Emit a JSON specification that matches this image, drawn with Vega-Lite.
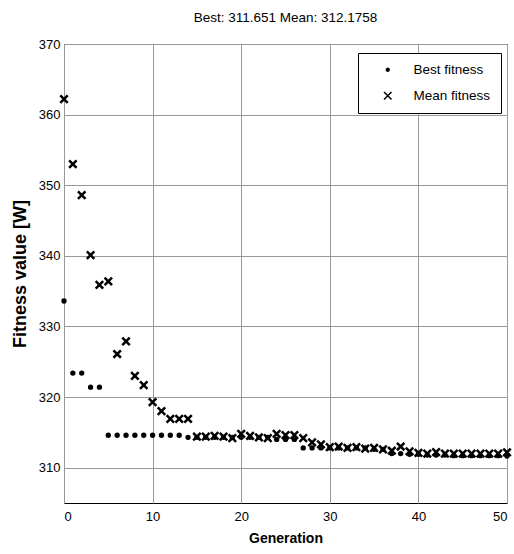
{
  "$schema": "https://vega.github.io/schema/vega-lite/v6.json",
  "width": 443,
  "height": 459,
  "autosize": {"type": "none"},
  "padding": {"left": 64, "top": 44, "right": 7, "bottom": 51},
  "background": "white",
  "title": {
    "text": "Best: 311.651 Mean: 312.1758",
    "font": "Liberation Sans",
    "fontSize": 13.5,
    "fontWeight": "normal",
    "color": "black",
    "anchor": "middle",
    "offset": 14
  },
  "config": {
    "view": {"stroke": "black", "strokeWidth": 1},
    "axis": {
      "labelFont": "Liberation Sans",
      "labelFontSize": 13,
      "labelColor": "black",
      "titleColor": "black",
      "titleFontWeight": "bold",
      "domain": false,
      "ticks": false,
      "grid": true,
      "gridColor": "#999999",
      "gridWidth": 1,
      "gridOpacity": 1
    }
  },
  "data": {
    "values": [
      {"gen": 0, "best": 333.6, "mean": 362.2},
      {"gen": 1, "best": 323.4, "mean": 353.0},
      {"gen": 2, "best": 323.4, "mean": 348.6},
      {"gen": 3, "best": 321.4, "mean": 340.1},
      {"gen": 4, "best": 321.4, "mean": 335.9},
      {"gen": 5, "best": 314.6, "mean": 336.4},
      {"gen": 6, "best": 314.6, "mean": 326.1},
      {"gen": 7, "best": 314.6, "mean": 327.9},
      {"gen": 8, "best": 314.6, "mean": 323.0},
      {"gen": 9, "best": 314.6, "mean": 321.7},
      {"gen": 10, "best": 314.6, "mean": 319.3},
      {"gen": 11, "best": 314.6, "mean": 318.0},
      {"gen": 12, "best": 314.6, "mean": 316.9},
      {"gen": 13, "best": 314.6, "mean": 316.9},
      {"gen": 14, "best": 314.3, "mean": 316.9},
      {"gen": 15, "best": 314.3, "mean": 314.4},
      {"gen": 16, "best": 314.3, "mean": 314.4},
      {"gen": 17, "best": 314.3, "mean": 314.5},
      {"gen": 18, "best": 314.3, "mean": 314.4},
      {"gen": 19, "best": 314.3, "mean": 314.2},
      {"gen": 20, "best": 314.3, "mean": 314.8},
      {"gen": 21, "best": 314.3, "mean": 314.5},
      {"gen": 22, "best": 314.3, "mean": 314.3},
      {"gen": 23, "best": 314.3, "mean": 314.2},
      {"gen": 24, "best": 314.0, "mean": 314.8},
      {"gen": 25, "best": 314.0, "mean": 314.6},
      {"gen": 26, "best": 314.0, "mean": 314.6},
      {"gen": 27, "best": 312.8, "mean": 314.2},
      {"gen": 28, "best": 312.8, "mean": 313.6},
      {"gen": 29, "best": 312.8, "mean": 313.3},
      {"gen": 30, "best": 312.8, "mean": 312.9},
      {"gen": 31, "best": 312.8, "mean": 313.0},
      {"gen": 32, "best": 312.8, "mean": 312.8},
      {"gen": 33, "best": 312.8, "mean": 312.9},
      {"gen": 34, "best": 312.8, "mean": 312.7},
      {"gen": 35, "best": 312.6, "mean": 312.8},
      {"gen": 36, "best": 312.6, "mean": 312.6},
      {"gen": 37, "best": 312.0, "mean": 312.4},
      {"gen": 38, "best": 312.0, "mean": 313.0},
      {"gen": 39, "best": 311.9, "mean": 312.3},
      {"gen": 40, "best": 311.9, "mean": 312.1},
      {"gen": 41, "best": 311.8, "mean": 312.0},
      {"gen": 42, "best": 311.8, "mean": 312.2},
      {"gen": 43, "best": 311.8, "mean": 312.0},
      {"gen": 44, "best": 311.7, "mean": 312.0},
      {"gen": 45, "best": 311.7, "mean": 312.0},
      {"gen": 46, "best": 311.7, "mean": 312.0},
      {"gen": 47, "best": 311.7, "mean": 312.0},
      {"gen": 48, "best": 311.7, "mean": 312.0},
      {"gen": 49, "best": 311.7, "mean": 312.0},
      {"gen": 50, "best": 311.651, "mean": 312.1758}
    ]
  },
  "transform": [{"fold": ["best", "mean"], "as": ["series", "value"]}],
  "mark": {
    "type": "point",
    "filled": true,
    "fill": "black",
    "stroke": "black",
    "strokeWidth": 2.5,
    "size": 56,
    "opacity": 1,
    "clip": false
  },
  "encoding": {
    "x": {
      "field": "gen",
      "type": "quantitative",
      "scale": {"domain": [0, 50], "nice": false, "zero": false},
      "axis": {"values": [0, 10, 20, 30, 40, 50], "title": "Generation", "labelPadding": 7, "titleFont": "Liberation Sans", "titleFontSize": 14, "titlePadding": 8}
    },
    "y": {
      "field": "value",
      "type": "quantitative",
      "scale": {"domain": [305, 370], "nice": false, "zero": false},
      "axis": {"values": [310, 320, 330, 340, 350, 360, 370], "title": "Fitness value [W]", "labelPadding": 4, "titleFont": "Liberation Sans", "titleFontSize": 18, "titlePadding": 9}
    },
    "shape": {
      "field": "series",
      "type": "nominal",
      "scale": {
        "domain": ["best", "mean"],
        "range": ["M-0.38,0A0.38,0.38 0 1,0 0.38,0A0.38,0.38 0 1,0 -0.38,0Z", "M-1,-1L1,1M-1,1L1,-1"]
      },
      "legend": {
        "orient": "none",
        "legendX": 294,
        "legendY": 9,
        "title": null,
        "strokeColor": "black",
        "fillColor": "white",
        "padding": 10,
        "symbolOffset": 13,
        "labelOffset": 19,
        "rowPadding": 11,
        "symbolSize": 56,
        "labelFont": "Liberation Sans",
        "labelFontSize": 13.5,
        "labelColor": "black",
        "labelExpr": "datum.label == 'best' ? 'Best fitness' : 'Mean fitness'",
        "encode": {
          "symbols": {
            "update": {
              "fill": {"value": "black"},
              "stroke": {"value": "black"},
              "strokeWidth": {"value": 2.5},
              "opacity": {"value": 1}
            }
          }
        }
      }
    }
  }
}
